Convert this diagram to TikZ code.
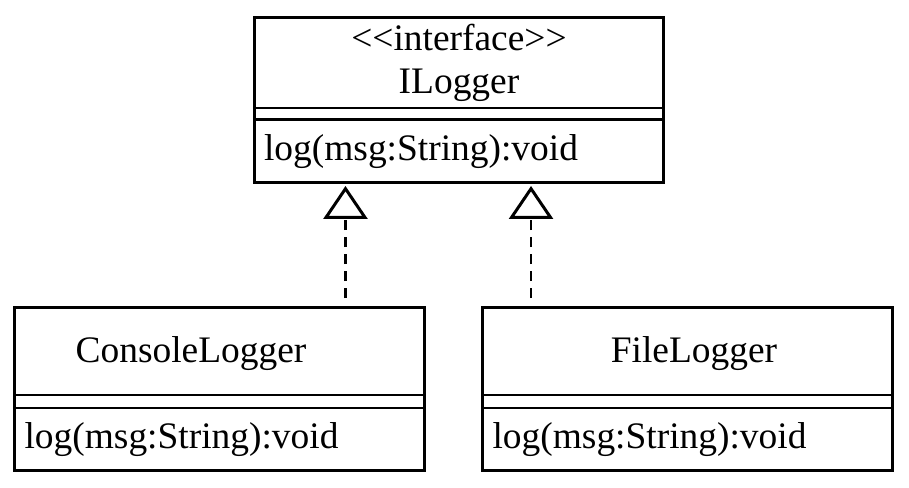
\documentclass[tikz,border=0pt]{standalone}
\usepackage{fontspec}
\newfontfamily\umlfont{Liberation Serif}
\usetikzlibrary{arrows.meta}
\tikzset{
  compart/.style={draw, line width=1.7pt, minimum width=8.2cm, inner sep=0pt, outer sep=0pt},
  opsbox/.style={compart, minimum height=1.26cm, text width=7.8cm, align=left, inner xsep=0.2cm},
  realize/.style={line width=1.3pt, dash pattern=on 0.2cm off 0.14cm,
    -{Triangle[open, length=0.66cm, width=0.88cm, line width=1.7pt]}},
}

\begin{document}
\begin{tikzpicture}[x=0.02cm, y=-0.02cm, every node/.style={font=\umlfont\fontsize{21.3}{24.5}\selectfont}]
\useasboundingbox (0,0) rectangle (909,487);
\node[compart, minimum height=1.82cm, align=center] (ilogger) at (459,62.5) {<<interface>>\\ILogger};
\node[compart, minimum height=0.24cm, anchor=north] (iattr) at (ilogger.south) {};
\node[opsbox, anchor=north] (iops) at (iattr.south) {log(msg:String):void};

\node[compart, minimum height=1.76cm] (console) at (219.5,351) {};
\node (consolename) at (191,354) {ConsoleLogger};
\node[compart, minimum height=0.26cm, anchor=north] (consoleattr) at (console.south) {};
\node[opsbox, anchor=north] (consoleops) at (consoleattr.south) {log(msg:String):void};

\node[compart, minimum height=1.76cm] (file) at (687.5,351) {};
\node (filename) at (694,354) {FileLogger};
\node[compart, minimum height=0.26cm, anchor=north] (fileattr) at (file.south) {};
\node[opsbox, anchor=north] (fileops) at (fileattr.south) {log(msg:String):void};

\draw[realize, shorten <=0.18cm, shorten >=0.06cm] ([xshift=2.52cm]console.north) -- ([xshift=2.52cm]console.north |- iops.south);
\draw[realize, shorten <=0.18cm, shorten >=0.06cm] ([xshift=-3.13cm]file.north) -- ([xshift=-3.13cm]file.north |- iops.south);
\end{tikzpicture}
\end{document}
